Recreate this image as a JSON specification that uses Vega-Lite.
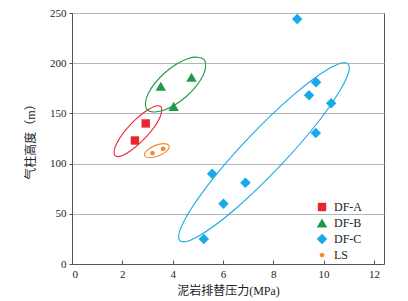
{
  "$schema": "https://vega.github.io/schema/vega-lite/v6.json",
  "width": 312,
  "height": 251,
  "autosize": {"type": "none"},
  "padding": {"left": 72, "top": 13, "right": 24, "bottom": 37},
  "background": "white",
  "config": {
    "view": {"stroke": "#555555", "strokeWidth": 1},
    "axis": {
      "labelFont": "Liberation Serif",
      "labelFontSize": 11,
      "labelColor": "#222222",
      "titleFont": "Liberation Serif, Noto Sans CJK SC",
      "titleFontSize": 12,
      "titleFontWeight": "normal",
      "titleColor": "#222222",
      "domainColor": "#555555",
      "tickColor": "#555555"
    },
    "legend": {
      "labelFont": "Liberation Serif"
    }
  },
  "datasets": {
    "pts": [
      {"series": "DF-A", "x": 2.5, "y": 123},
      {"series": "DF-A", "x": 2.93, "y": 140},
      {"series": "DF-B", "x": 3.53, "y": 177},
      {"series": "DF-B", "x": 4.75, "y": 186},
      {"series": "DF-B", "x": 4.04, "y": 157},
      {"series": "DF-C", "x": 8.95, "y": 244},
      {"series": "DF-C", "x": 9.7, "y": 181},
      {"series": "DF-C", "x": 9.42, "y": 168},
      {"series": "DF-C", "x": 10.3, "y": 160},
      {"series": "DF-C", "x": 9.69, "y": 130.5},
      {"series": "DF-C", "x": 5.57, "y": 90},
      {"series": "DF-C", "x": 6.89, "y": 81},
      {"series": "DF-C", "x": 6.02, "y": 60},
      {"series": "DF-C", "x": 5.24, "y": 25},
      {"series": "LS", "x": 3.2, "y": 110.5},
      {"series": "LS", "x": 3.62, "y": 114.8}
    ],
    "ell": [
      {"grp": "A", "ord": 0, "x": 3.53, "y": 156.7},
      {"grp": "A", "ord": 1, "x": 3.47, "y": 144.7},
      {"grp": "A", "ord": 2, "x": 2.91, "y": 125.5},
      {"grp": "A", "ord": 3, "x": 2.18, "y": 110.3},
      {"grp": "A", "ord": 4, "x": 1.71, "y": 107.9},
      {"grp": "A", "ord": 5, "x": 1.77, "y": 119.8},
      {"grp": "A", "ord": 6, "x": 2.33, "y": 139.0},
      {"grp": "A", "ord": 7, "x": 3.07, "y": 154.3},
      {"grp": "B", "ord": 0, "x": 5.25, "y": 203.5},
      {"grp": "B", "ord": 1, "x": 5.21, "y": 187.7},
      {"grp": "B", "ord": 2, "x": 4.53, "y": 166.6},
      {"grp": "B", "ord": 3, "x": 3.61, "y": 152.9},
      {"grp": "B", "ord": 4, "x": 2.98, "y": 153.7},
      {"grp": "B", "ord": 5, "x": 3.02, "y": 169.3},
      {"grp": "B", "ord": 6, "x": 3.69, "y": 190.5},
      {"grp": "B", "ord": 7, "x": 4.62, "y": 204.7},
      {"grp": "L", "ord": 0, "x": 3.855, "y": 117.8},
      {"grp": "L", "ord": 1, "x": 3.77, "y": 112.7},
      {"grp": "L", "ord": 2, "x": 3.45, "y": 107.8},
      {"grp": "L", "ord": 3, "x": 3.08, "y": 105.8},
      {"grp": "L", "ord": 4, "x": 2.88, "y": 107.9},
      {"grp": "L", "ord": 5, "x": 2.97, "y": 112.9},
      {"grp": "L", "ord": 6, "x": 3.29, "y": 117.9},
      {"grp": "L", "ord": 7, "x": 3.65, "y": 119.9},
      {"grp": "C", "ord": 0, "x": 10.97, "y": 199.1},
      {"grp": "C", "ord": 1, "x": 10.82, "y": 180.5},
      {"grp": "C", "ord": 2, "x": 9.83, "y": 142.9},
      {"grp": "C", "ord": 3, "x": 8.24, "y": 96.9},
      {"grp": "C", "ord": 4, "x": 6.49, "y": 54.8},
      {"grp": "C", "ord": 5, "x": 5.04, "y": 27.9},
      {"grp": "C", "ord": 6, "x": 4.29, "y": 23.2},
      {"grp": "C", "ord": 7, "x": 4.44, "y": 42.2},
      {"grp": "C", "ord": 8, "x": 5.44, "y": 79.8},
      {"grp": "C", "ord": 9, "x": 7.03, "y": 125.8},
      {"grp": "C", "ord": 10, "x": 8.78, "y": 167.9},
      {"grp": "C", "ord": 11, "x": 10.22, "y": 194.8}
    ]
  },
  "layer": [
    {
      "data": {"name": "ell"},
      "mark": {"type": "line", "interpolate": "cardinal-closed", "strokeWidth": 1.1},
      "encoding": {
        "x": {"field": "x", "type": "quantitative", "scale": {"domain": [0, 12.4], "nice": false}},
        "y": {"field": "y", "type": "quantitative", "scale": {"domain": [0, 250], "nice": false}},
        "order": {"field": "ord", "type": "quantitative"},
        "stroke": {
          "field": "grp", "type": "nominal",
          "scale": {"domain": ["A", "B", "C", "L"], "range": ["#e8262c", "#1f9a4a", "#1ba8e8", "#f28a2a"]},
          "legend": null
        }
      }
    },
    {
      "data": {"name": "pts"},
      "mark": {"type": "point", "filled": true, "opacity": 1, "size": 110},
      "encoding": {
        "x": {
          "field": "x", "type": "quantitative",
          "scale": {"domain": [0, 12.4], "nice": false},
          "title": "泥岩排替压力(MPa)",
          "axis": {"values": [0, 2, 4, 6, 8, 10, 12], "grid": false, "tickSize": -4, "labelPadding": 8, "titlePadding": 6}
        },
        "y": {
          "field": "y", "type": "quantitative",
          "scale": {"domain": [0, 250], "nice": false},
          "title": "气柱高度（m）",
          "axis": {"values": [0, 50, 100, 150, 200, 250], "grid": true, "gridColor": "#b5b5b5", "tickSize": 3, "labelPadding": 3, "titlePadding": 12}
        },
        "color": {
          "field": "series", "type": "nominal",
          "scale": {"domain": ["DF-A", "DF-B", "DF-C", "LS"], "range": ["#e8262c", "#1f9a4a", "#1ba8e8", "#f28a2a"]},
          "legend": {
            "title": null, "orient": "none", "legendX": 244, "legendY": 188,
            "labelFontSize": 12, "labelColor": "#222222", "symbolSize": 110,
            "rowPadding": 4, "symbolOffset": 0, "labelOffset": 6
          }
        },
        "shape": {
          "field": "series", "type": "nominal",
          "scale": {
            "domain": ["DF-A", "DF-B", "DF-C", "LS"],
            "range": [
              "M-0.8,-0.8H0.8V0.8H-0.8Z",
              "triangle-up",
              "diamond",
              "M-0.44,0A0.44,0.44 0 1,0 0.44,0A0.44,0.44 0 1,0 -0.44,0Z"
            ]
          }
        }
      }
    }
  ]
}
